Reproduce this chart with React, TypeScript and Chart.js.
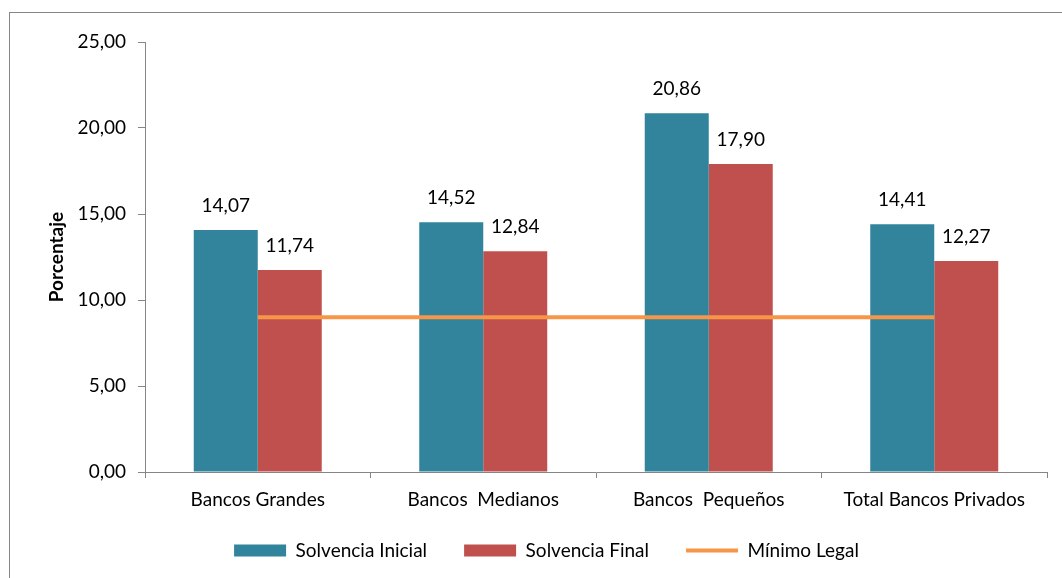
import { useEffect, useRef } from 'react';
import { Chart, registerables } from 'chart.js';

Chart.register(...registerables);

const categories = ['Bancos Grandes', 'Bancos  Medianos', 'Bancos  Pequeños', 'Total Bancos Privados'];
const solvenciaInicial = [14.07, 14.52, 20.86, 14.41];
const solvenciaFinal = [11.74, 12.84, 17.9, 12.27];
const minimoLegal = [9, 9, 9, 9];
const seriesNames = ['Solvencia Inicial', 'Solvencia Final', 'Mínimo Legal'];
const yTicks = [0, 5, 10, 15, 20, 25];

const FONT = 'Lato';
const FS = 19;
const fmt = (v: number) => Number(v).toFixed(2).replace('.', ',');

const valueLabels = {
  id: 'valueLabels',
  afterDatasetsDraw(chart: any) {
    const ctx = chart.ctx;
    ctx.save();
    ctx.font = `${FS}px ${FONT}`;
    ctx.fillStyle = '#000';
    ctx.textAlign = 'center';
    ctx.textBaseline = 'middle';
    [0, 1].forEach((di) => {
      const meta = chart.getDatasetMeta(di);
      meta.data.forEach((el: any, i: number) => {
        const v = chart.data.datasets[di].data[i] as number;
        ctx.fillText(fmt(v), el.x, el.y - 24);
      });
    });
    ctx.restore();
  },
};

const legendShift = {
  id: 'legendShift',
  afterLayout(chart: any) {
    const l = chart.legend;
    if (l) {
      l.left += 23;
      l.right += 23;
      l.top -= 8;
      l.bottom -= 8;
    }
  },
};

export default function App() {
  const ref = useRef<HTMLCanvasElement>(null);
  useEffect(() => {
    if (!ref.current) return;
    const chart = new Chart(ref.current, {
      type: 'bar',
      data: {
        labels: categories,
        datasets: [
          {
            type: 'bar',
            label: seriesNames[0],
            data: solvenciaInicial,
            backgroundColor: '#31849B',
            borderWidth: 0,
            categoryPercentage: 0.5676,
            barPercentage: 1,
            pointStyle: 'rect',
            order: 2,
          } as any,
          {
            type: 'bar',
            label: seriesNames[1],
            data: solvenciaFinal,
            backgroundColor: '#C0504D',
            borderWidth: 0,
            categoryPercentage: 0.5676,
            barPercentage: 1,
            pointStyle: 'rect',
            order: 2,
          } as any,
          {
            type: 'line',
            label: seriesNames[2],
            data: minimoLegal,
            borderColor: '#F79646',
            backgroundColor: '#F79646',
            borderWidth: 4,
            pointRadius: 0,
            pointStyle: 'line',
            order: 1,
          } as any,
        ],
      },
      options: {
        animation: false,
        responsive: false,
        maintainAspectRatio: false,
        layout: { padding: { left: 0, right: 15, top: 42, bottom: 0 } },
        plugins: {
          tooltip: { enabled: false },
          legend: {
            position: 'bottom',
            labels: {
              usePointStyle: true,
              pointStyleWidth: 52,
              boxWidth: 52,
              boxHeight: 12,
              padding: 37,
              color: '#000',
              font: { family: FONT, size: FS },
              sort: (a: any, b: any) => a.datasetIndex - b.datasetIndex,
            },
          },
        },
        scales: {
          x: {
            offset: true,
            ticks: { color: '#000', font: { family: FONT, size: FS }, padding: 10, maxRotation: 0, autoSkip: false },
            grid: { display: true, drawOnChartArea: false, drawTicks: true, tickLength: 6, color: '#868686', offset: true },
            border: { color: '#868686', width: 1 },
            afterFit: (s: any) => {
              s.height = 40;
            },
          },
          y: {
            min: 0,
            max: 25,
            afterBuildTicks: (s: any) => {
              s.ticks = yTicks.map((v) => ({ value: v }));
            },
            ticks: {
              color: '#000',
              font: { family: FONT, size: FS },
              padding: 12,
              callback: (v: any) => fmt(Number(v)),
            },
            grid: { display: true, drawOnChartArea: false, drawTicks: true, tickLength: 7, color: '#868686' },
            border: { color: '#868686', width: 1 },
            title: {
              display: true,
              text: 'Porcentaje',
              color: '#000',
              font: { family: FONT, size: FS, weight: 'bold' },
              padding: { top: 45.6, bottom: 0 },
            },
            afterFit: (s: any) => {
              s.width = 145;
            },
          },
        },
      },
      plugins: [valueLabels, legendShift],
    });
    return () => chart.destroy();
  }, []);

  return (
    <div style={{ position: 'fixed', left: 0, top: 0, width: 1062, height: 578, background: '#fff', overflow: 'hidden' }}>
      <div
        style={{
          position: 'absolute',
          left: 9,
          top: 12,
          width: 1053,
          height: 566,
          borderLeft: '1px solid #868686',
          borderTop: '1px solid #868686',
          boxSizing: 'border-box',
        }}
      />
      <canvas ref={ref} width={1062} height={578} style={{ position: 'absolute', left: 0, top: 0, width: 1062, height: 578 }} />
    </div>
  );
}
